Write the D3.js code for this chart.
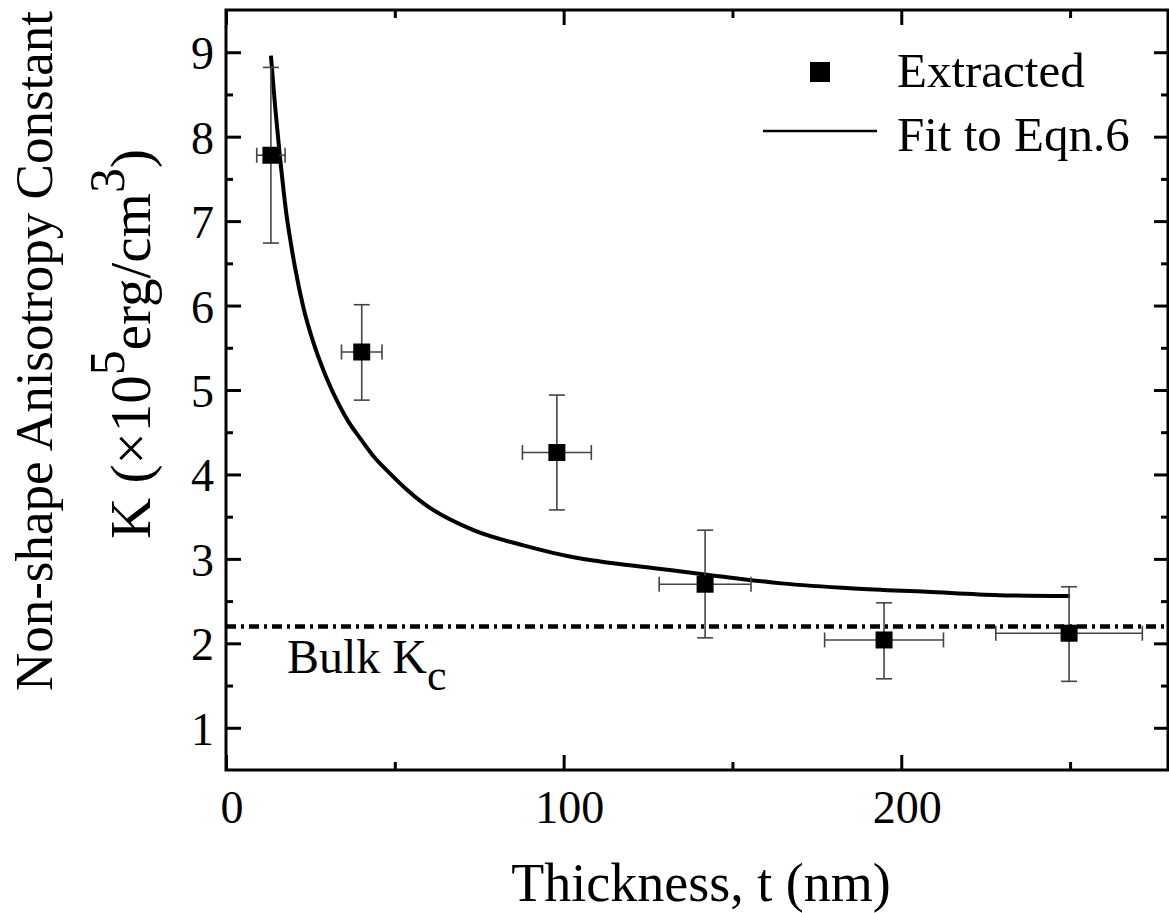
<!DOCTYPE html>
<html>
<head>
<meta charset="utf-8">
<script src="https://cdn.jsdelivr.net/npm/d3@7"></script>
<style>
  html, body { margin: 0; padding: 0; background: #fff; }
  svg { display: block; }
  text { font-family: "Liberation Serif", "Times New Roman", serif; fill: #000; }
  .axis path, .axis line { stroke: #000; }
</style>
</head>
<body>
<div id="chart"></div>
<script>
// thickness t (nm), extracted anisotropy K (x10^5 erg/cm^3)
const thickness = [13.3, 40.2, 98.0, 141.9, 194.9, 249.7];
const kValue    = [7.78, 5.45, 4.26, 2.70, 2.04, 2.12];
const tErr      = [4.2, 6.0, 10.2, 13.6, 17.6, 21.7];
const kHigh     = [8.82, 6.01, 4.94, 3.34, 2.48, 2.67];
const kLow      = [6.74, 4.88, 3.58, 2.065, 1.58, 1.55];

// fit to Eqn.6
const fitT = [13.3, 14.5, 16.0, 17.0, 18.0, 19.2, 20.4, 22.9, 25.9, 29.5, 33.8, 36.5,
              39.7, 44.0, 48.6, 53.0, 58.4, 73.3, 88.1, 102.9, 110.8, 126.9, 143.0,
              164.5, 186.0, 207.5, 229.0, 250.0];
const fitK = [8.96, 8.38, 7.75, 7.38, 7.05, 6.74, 6.46, 5.98, 5.56, 5.17, 4.80, 4.61,
              4.43, 4.20, 4.01, 3.84, 3.66, 3.34, 3.16, 3.02, 2.97, 2.89, 2.81,
              2.71, 2.65, 2.61, 2.57, 2.56];

const bulkKc = 2.2;

const xMajor = [0, 100, 200];
const xMinor = [50, 150, 250];
const yMajor = [1, 2, 3, 4, 5, 6, 7, 8, 9];
const yMinor = [1.5, 2.5, 3.5, 4.5, 5.5, 6.5, 7.5, 8.5];

const W = 1169, H = 913;
const m = { l: 226, r: 1168, t: 10, b: 770 };

const svg = d3.select('#chart').append('svg').attr('width', W).attr('height', H);

const x = d3.scaleLinear().domain([0, 279]).range([m.l, m.r]);
const y = d3.scaleLinear().domain([0.5, 9.5]).range([m.b, m.t]);

// ticks on all four sides, pointing inward
function ticks(axis, vals, len, transform) {
  const g = svg.append('g').attr('class', 'axis').attr('transform', transform)
    .call(axis.tickValues(vals).tickSize(-len).tickFormat(''));
  g.select('.domain').remove();
  g.selectAll('line').attr('stroke-width', 3);
}
ticks(d3.axisBottom(x), xMajor, 15, `translate(0,${m.b})`);
ticks(d3.axisBottom(x), xMinor, 8, `translate(0,${m.b})`);
ticks(d3.axisTop(x), xMajor, 15, `translate(0,${m.t})`);
ticks(d3.axisTop(x), xMinor, 8, `translate(0,${m.t})`);
ticks(d3.axisLeft(y), yMajor, 15, `translate(${m.l},0)`);
ticks(d3.axisLeft(y), yMinor, 7, `translate(${m.l},0)`);
ticks(d3.axisRight(y), yMajor, 14, `translate(${m.r},0)`);
ticks(d3.axisRight(y), yMinor, 7, `translate(${m.r},0)`);

// frame
svg.append('rect').attr('x', m.l).attr('y', m.t)
  .attr('width', m.r - m.l).attr('height', m.b - m.t)
  .attr('fill', 'none').attr('stroke', '#000').attr('stroke-width', 3);

// tick labels
svg.append('g').selectAll('text').data(xMajor).join('text')
  .attr('x', d => x(d) + 6).attr('y', m.b + 53)
  .attr('text-anchor', 'middle').attr('font-size', 46).text(d => d);
svg.append('g').selectAll('text').data(yMajor).join('text')
  .attr('x', 214).attr('y', d => y(d) + 17)
  .attr('text-anchor', 'end').attr('font-size', 46).text(d => d);

// axis titles
svg.append('text').attr('x', 701).attr('y', 901)
  .attr('text-anchor', 'middle').attr('font-size', 54).text('Thickness, t (nm)');

svg.append('text').attr('transform', 'translate(52,351) rotate(-90)')
  .attr('text-anchor', 'middle').attr('font-size', 53)
  .text('Non-shape Anisotropy Constant');

const yl2 = svg.append('text').attr('transform', 'translate(150,344) rotate(-90)')
  .attr('text-anchor', 'middle').attr('font-size', 57);
yl2.append('tspan').text('K (×10');
yl2.append('tspan').attr('font-size', 50).attr('dy', -26).text('5');
yl2.append('tspan').attr('dy', 26).text('erg/cm');
yl2.append('tspan').attr('font-size', 50).attr('dy', -26).text('3');
yl2.append('tspan').attr('dy', 26).text(')');

// bulk Kc reference line
svg.append('line')
  .attr('x1', x(0)).attr('x2', x(279))
  .attr('y1', y(bulkKc)).attr('y2', y(bulkKc))
  .attr('stroke', '#000').attr('stroke-width', 4.5)
  .attr('stroke-dasharray', '10,5,3,5');

const bulk = svg.append('text').attr('x', 287).attr('y', 673).attr('font-size', 48);
bulk.append('tspan').text('Bulk K');
bulk.append('tspan').attr('font-size', 44).attr('dy', 17).text('c');

// fit curve
const fit = fitT.map((t, i) => [t, fitK[i]]);
svg.append('path').datum(fit)
  .attr('d', d3.line().x(d => x(d[0])).y(d => y(d[1])).curve(d3.curveMonotoneX))
  .attr('fill', 'none').attr('stroke', '#000').attr('stroke-width', 4);

// extracted points with error bars
const pts = thickness.map((t, i) => ({ t, k: kValue[i], dt: tErr[i], hi: kHigh[i], lo: kLow[i] }));
const eb = svg.append('g').attr('stroke', '#444').attr('stroke-width', 1.6).attr('fill', 'none');
pts.forEach(d => {
  const cx = x(d.t), cy = y(d.k);
  const g = eb.append('g');
  g.append('line').attr('x1', cx).attr('x2', cx).attr('y1', y(d.hi)).attr('y2', y(d.lo));
  g.append('line').attr('x1', cx - 8).attr('x2', cx + 8).attr('y1', y(d.hi)).attr('y2', y(d.hi));
  g.append('line').attr('x1', cx - 8).attr('x2', cx + 8).attr('y1', y(d.lo)).attr('y2', y(d.lo));
  g.append('line').attr('x1', x(d.t - d.dt)).attr('x2', x(d.t + d.dt)).attr('y1', cy).attr('y2', cy);
  g.append('line').attr('x1', x(d.t - d.dt)).attr('x2', x(d.t - d.dt)).attr('y1', cy - 7.5).attr('y2', cy + 7.5);
  g.append('line').attr('x1', x(d.t + d.dt)).attr('x2', x(d.t + d.dt)).attr('y1', cy - 7.5).attr('y2', cy + 7.5);
});
const S = 17;
svg.append('g').selectAll('rect').data(pts).join('rect')
  .attr('x', d => x(d.t) - S / 2).attr('y', d => y(d.k) - S / 2)
  .attr('width', S).attr('height', S).attr('fill', '#000');

// legend
svg.append('rect').attr('x', 810).attr('y', 62).attr('width', 20).attr('height', 20).attr('fill', '#000');
svg.append('text').attr('x', 897).attr('y', 87).attr('font-size', 49).text('Extracted');
svg.append('line').attr('x1', 763).attr('x2', 877).attr('y1', 131).attr('y2', 131)
  .attr('stroke', '#000').attr('stroke-width', 2.5);
svg.append('text').attr('x', 897).attr('y', 151).attr('font-size', 49).text('Fit to Eqn.6');
</script>
</body>
</html>
